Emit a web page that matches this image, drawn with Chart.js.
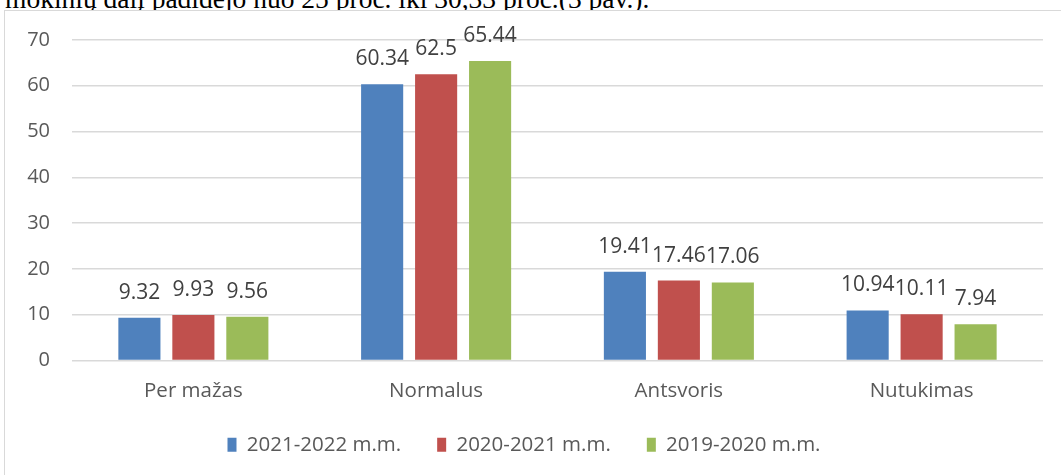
<!DOCTYPE html>
<html>
<head>
<meta charset="utf-8">
<script src="https://cdn.jsdelivr.net/npm/chart.js@4.4.1/dist/chart.umd.min.js"></script>
<style>
  html, body { margin: 0; padding: 0; background: #fff; overflow: hidden; }
  body { width: 1061px; height: 475px; position: relative; }
  .caption {
    position: absolute; left: 5px; top: -15px;
    font-family: "Liberation Serif", serif; font-size: 27.5px; line-height: 27px;
    color: #000; white-space: nowrap;
  }
  .frame {
    position: absolute; left: 4px; top: 10px; width: 1057px; height: 465px;
    border-left: 1px solid #d9d9d9; border-top: 1px solid #d9d9d9;
    background: #fff;
  }
</style>
</head>
<body>
<div class="caption">mokinių dalį padidėjo nuo 25 proc. iki 30,33 proc.(3 pav.).</div>
<div class="frame"><canvas id="chart" width="1056" height="464"></canvas></div>
<script>
// categories and series
const categories = ['Per mažas', 'Normalus', 'Antsvoris', 'Nutukimas'];
const seriesNames = ['2021-2022 m.m.', '2020-2021 m.m.', '2019-2020 m.m.'];
const values2122 = [9.32, 60.34, 19.41, 10.94];
const values2021 = [9.93, 62.5, 17.46, 10.11];
const values1920 = [9.56, 65.44, 17.06, 7.94];
const yTicks = [0, 10, 20, 30, 40, 50, 60, 70];

const colors = ['#4F81BD', '#C0504D', '#9BBB59'];
const FONT = '"Open Sans", "Liberation Sans", sans-serif';

// value labels above each bar
const valueLabels = {
  id: 'valueLabels',
  afterDatasetsDraw(chart) {
    const ctx = chart.ctx;
    ctx.save();
    ctx.font = '21px ' + FONT;
    ctx.fillStyle = '#404040';
    ctx.textAlign = 'center';
    ctx.textBaseline = 'alphabetic';
    chart.data.datasets.forEach((ds, i) => {
      chart.getDatasetMeta(i).data.forEach((bar, j) => {
        ctx.fillText(String(ds.data[j]), bar.x, bar.y - 19);
      });
    });
    ctx.restore();
  }
};

const datasetValues = [values2122, values2021, values1920];

new Chart(document.getElementById('chart'), {
  type: 'bar',
  data: {
    labels: categories,
    datasets: seriesNames.map((name, i) => ({
      label: name,
      data: datasetValues[i],
      backgroundColor: colors[i],
      borderWidth: 0,
      categoryPercentage: 0.667,
      barPercentage: 0.78
    }))
  },
  options: {
    responsive: false,
    animation: false,
    layout: { padding: { top: 29, right: 18, left: 0, bottom: 10 } },
    plugins: {
      legend: {
        position: 'bottom',
        labels: {
          boxWidth: 9,
          boxHeight: 14,
          padding: 36,
          color: '#595959',
          font: { family: FONT, size: 20.5 }
        }
      },
      tooltip: { enabled: false }
    },
    scales: {
      x: {
        grid: { display: false, drawTicks: false },
        border: { display: false },
        ticks: { color: '#595959', padding: 18, font: { family: FONT, size: 20.5 } },
        afterFit: (scale) => { scale.height = 38; }
      },
      y: {
        min: 0,
        max: 70,
        afterBuildTicks: (scale) => { scale.ticks = yTicks.map(v => ({ value: v })); },
        grid: { color: '#d9d9d9', lineWidth: 1.5, drawTicks: false },
        border: { display: false },
        ticks: { color: '#595959', padding: 22, font: { family: FONT, size: 20 } },
        afterFit: (scale) => {
          scale.width = 67;
          // keep the tick padding from pushing the plot top down
          scale.paddingTop = 0;
          scale.paddingBottom = 0;
        }
      }
    }
  },
  plugins: [valueLabels]
});
</script>
</body>
</html>
